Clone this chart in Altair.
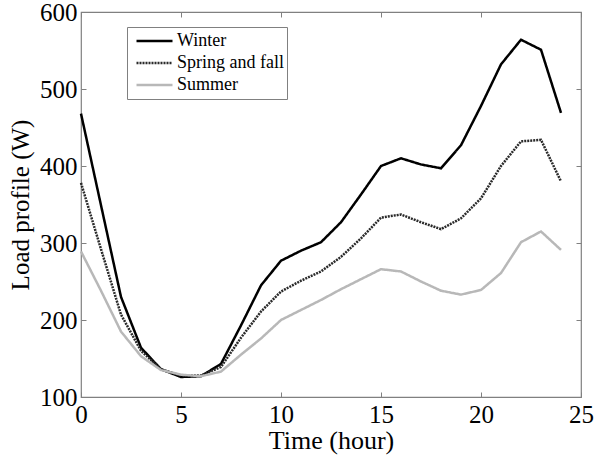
import altair as alt
import pandas as pd

# Hourly household load profile by season
hours = list(range(25))
winter = [468, 349, 230, 164, 136, 126, 127, 143, 193, 245, 277, 290, 301, 327, 363,
          400, 410, 402, 397, 427, 478, 532, 564, 551, 469]
spring_fall = [378, 292, 207, 160, 136, 128, 128, 139, 177, 211, 237, 251, 263, 282, 306,
               333, 337, 327, 318, 332, 358, 400, 432, 434, 380]
summer = [289, 238, 185, 153, 135, 129, 127, 133, 155, 176, 200, 213, 226, 240, 253,
          266, 263, 250, 238, 233, 239, 261, 301, 315, 291]

seasons = ["Winter", "Spring and fall", "Summer"]
x_ticks = [0, 5, 10, 15, 20, 25]
y_ticks = [100, 200, 300, 400, 500, 600]

rows = []
for name, vals in zip(seasons, [winter, spring_fall, summer]):
    for h, v in zip(hours, vals):
        rows.append({"hour": h, "load": v, "season": name})
df = pd.DataFrame(rows)

FONT = "Liberation Serif"
FRAME = "#808080"
x_scale = alt.Scale(domain=[0, 25], nice=False, zero=False)
y_scale = alt.Scale(domain=[100, 600], nice=False, zero=False)

base = alt.Chart(df)

lines = base.mark_line(strokeWidth=2.5).encode(
    x=alt.X("hour:Q", scale=x_scale,
            axis=alt.Axis(values=x_ticks, ticks=False, domain=False, grid=False,
                          labelFont=FONT, labelFontSize=25, labelColor="black",
                          labelPadding=5, labelFlush=False, labelOverlap=False,
                          title="Time (hour)", titleFont=FONT, titleFontSize=26,
                          titleFontWeight="normal", titleColor="black", titlePadding=0)),
    y=alt.Y("load:Q", scale=y_scale,
            axis=alt.Axis(values=y_ticks, ticks=False, domain=False, grid=False,
                          labelFont=FONT, labelFontSize=25, labelColor="black",
                          labelPadding=4, labelFlush=False, labelOverlap=False,
                          title="Load profile (W)", titleFont=FONT, titleFontSize=25,
                          titleFontWeight="normal", titleColor="black", titlePadding=6)),
    color=alt.Color("season:N",
                    scale=alt.Scale(domain=seasons, range=["#000000", "#2a2a2a", "#b8b8b8"]),
                    legend=alt.Legend(title=None, orient="none", legendX=46, legendY=15,
                                      symbolType="stroke", symbolSize=1296,
                                      symbolStrokeWidth=2.5, clipHeight=22,
                                      rowPadding=0, padding=3, symbolOffset=5,
                                      labelOffset=3, labelFont=FONT, labelFontSize=18,
                                      labelColor="black", strokeColor=FRAME,
                                      fillColor="white")),
    strokeDash=alt.StrokeDash("season:N",
                              scale=alt.Scale(domain=seasons,
                                              range=[[1, 0], [2, 1], [1, 0]]),
                              legend=alt.Legend(title=None)),
    order="hour:Q",
)

# Inward-pointing tick marks on all four sides of the frame
def inner_ticks(x_orient, y_orient):
    return base.mark_line(opacity=0).encode(
        x=alt.X("hour:Q", scale=x_scale, title=None,
                axis=alt.Axis(orient=x_orient, values=x_ticks, offset=-5, tickSize=5,
                              tickColor=FRAME, labels=False, domain=False, grid=False)),
        y=alt.Y("load:Q", scale=y_scale, title=None,
                axis=alt.Axis(orient=y_orient, values=y_ticks, offset=-5, tickSize=5,
                              tickColor=FRAME, labels=False, domain=False, grid=False)),
        detail="season:N",
    )

chart = alt.layer(
    inner_ticks("bottom", "left"),
    inner_ticks("top", "right"),
    lines,
).resolve_axis(x="independent", y="independent").properties(
    width=500,
    height=385,
    autosize=alt.AutoSizeParams(type="none"),
    padding={"left": 81, "top": 12, "right": 13, "bottom": 63},
    background="white",
).configure_view(stroke=FRAME, strokeWidth=1.2)

chart.save("out.html", embed_options={"renderer": "svg", "actions": False})
